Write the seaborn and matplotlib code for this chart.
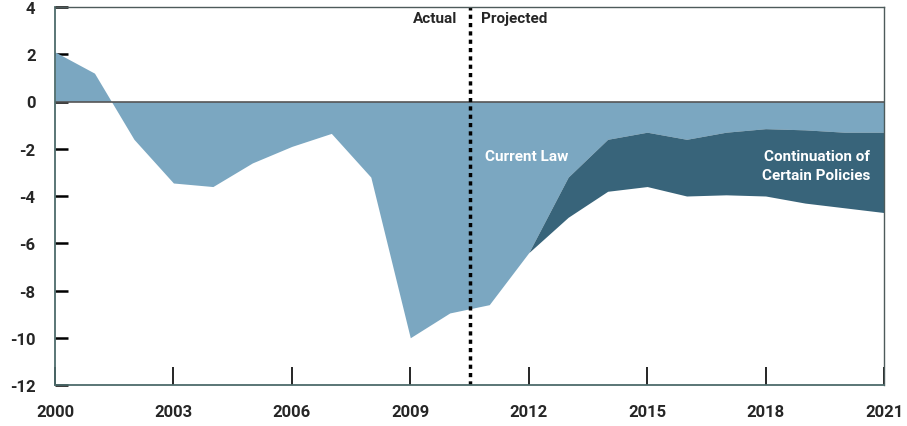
import numpy as np
import pandas as pd
import seaborn as sns
import matplotlib
matplotlib.use("Agg")
import matplotlib.pyplot as plt

# deficit or surplus, % of GDP
years = list(range(2000, 2022))
current_law = [2.1, 1.2, -1.6, -3.45, -3.6, -2.6, -1.9, -1.35, -3.2, -10.0, -8.95,
               -8.6, -6.4, -3.2, -1.6, -1.3, -1.6, -1.3, -1.15, -1.2, -1.3, -1.3]
alt_years = list(range(2012, 2022))
alt_policies = [-6.4, -4.9, -3.8, -3.6, -4.0, -3.95, -4.0, -4.3, -4.5, -4.7]

yticks = [4, 2, 0, -2, -4, -6, -8, -10, -12]
xticks = [2000, 2003, 2006, 2009, 2012, 2015, 2018, 2021]

light = "#7ba7c1"
dark = "#38647a"

df = pd.DataFrame({"year": years, "deficit": current_law})
alt = pd.DataFrame({"year": alt_years, "deficit": alt_policies})
cl_alt = df[df.year >= 2012]["deficit"].values

sns.set_style("white")
plt.rcParams["font.family"] = ["DejaVu Sans Condensed", "Roboto", "DejaVu Sans"]
plt.rcParams["font.stretch"] = "condensed"
plt.rcParams["font.weight"] = "bold"

fig = plt.figure(figsize=(9.07, 4.27), dpi=100)
ax = fig.add_axes([55 / 907, 1 - 386 / 427, (884 - 55) / 907, (386 - 8) / 427])

sns.lineplot(data=df, x="year", y="deficit", ax=ax, color=light, lw=0)
ax.fill_between(df.year, 0, df.deficit, color=light, lw=0)
ax.fill_between(alt.year, cl_alt, alt.deficit, color=dark, lw=0)

ax.axhline(0, color="#555555", lw=1.2)
ax.axvline(2010.5, color="black", lw=2.5, ls=(0, (1.2, 1.2)))

ax.set_xlim(2000, 2021)
ax.set_ylim(-12, 4)
ax.set_xticks(xticks)
ax.set_yticks(yticks)
ax.set_xticklabels([str(x) for x in xticks], fontsize=12, fontweight="bold")
ax.set_yticklabels([str(y) for y in yticks], fontsize=12, fontweight="bold")
ax.tick_params(axis="x", bottom=True, direction="in", length=13, width=1.2,
               color="black", pad=14)
ax.tick_params(axis="y", left=True, direction="in", length=9, width=1.8,
               color="black", pad=14)
ax.set_xlabel("")
ax.set_ylabel("")

for side in ["left", "bottom"]:
    ax.spines[side].set_color("#4d6b6b")
    ax.spines[side].set_linewidth(1.3)
for side in ["top", "right"]:
    ax.spines[side].set_color("#4d5b5b")
    ax.spines[side].set_linewidth(1.0)

ax.text(2010.2, 3.55, "Actual", ha="right", va="center", fontsize=11, fontweight="bold")
ax.text(2010.8, 3.55, "Projected", ha="left", va="center", fontsize=11, fontweight="bold")
ax.text(2010.9, -2.3, "Current Law", ha="left", va="center", fontsize=11,
        fontweight="bold", color="white")
ax.text(2020.65, -2.7, "Continuation of\nCertain Policies", ha="right", va="center",
        fontsize=11, fontweight="bold", color="white", linespacing=1.5)

fig.savefig("out.png", dpi=100)
